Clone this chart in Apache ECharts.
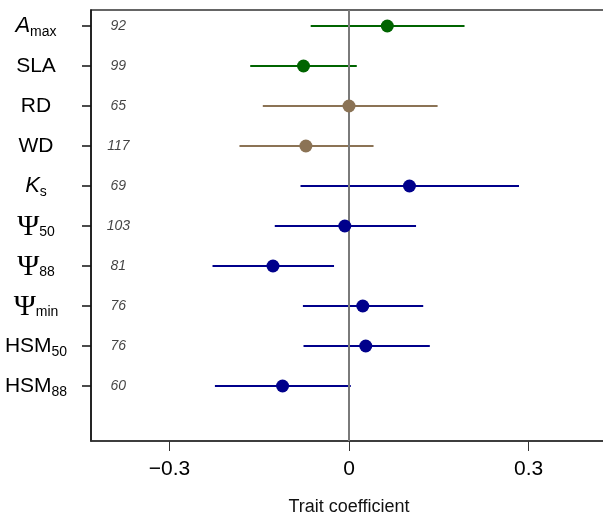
<!DOCTYPE html>
<html><head><meta charset="utf-8">
<script src="https://cdn.jsdelivr.net/npm/echarts@6/dist/echarts.min.js"></script>
<style>html,body{margin:0;padding:0;background:#fff}#c{width:603px;height:519px}</style>
</head><body><div id="c"></div>
<script>
// Data
var traitLabels = ['{i|A}{s|max}', '{n|SLA}', '{n|RD}', '{n|WD}', '{i|K}{s|s}', '{g|Ψ}{s|50}', '{g|Ψ}{s|88}', '{g|Ψ}{s|min}', '{n|HSM}{s|50}', '{n|HSM}{s|88}'];
var counts = [92, 99, 65, 117, 69, 103, 81, 76, 76, 60];
var estimate = [0.064, -0.076, 0.000, -0.072, 0.101, -0.007, -0.127, 0.023, 0.028, -0.111];
var lower = [-0.064, -0.165, -0.144, -0.183, -0.081, -0.124, -0.228, -0.077, -0.076, -0.224];
var upper = [0.193, 0.013, 0.148, 0.041, 0.284, 0.112, -0.025, 0.124, 0.135, 0.003];
var group = ['leaf', 'leaf', 'wood', 'wood', 'hyd', 'hyd', 'hyd', 'hyd', 'hyd', 'hyd'];
var xTicks = [-0.3, 0, 0.3];

var groupColor = {leaf: '#006400', wood: '#8B7355', hyd: '#00008B'};
var rows = traitLabels.map(function (_, i) { return i; });
var COUNT_X = -0.3853;

var chart = echarts.init(document.getElementById('c'), null, {renderer: 'canvas'});
chart.setOption({
  animation: false,
  grid: {left: 91, top: 10, width: 516, height: 431, outerBoundsMode: 'none', containLabel: false,
    show: true, borderColor: '#333', borderWidth: 1.5, backgroundColor: 'transparent'},
  xAxis: {
    type: 'value', min: -0.431, max: 0.431,
    name: 'Trait coefficient', nameLocation: 'middle', nameGap: 57,
    nameTextStyle: {fontFamily: 'Liberation Sans', fontSize: 18, color: '#111'},
    axisLine: {show: true, onZero: false, lineStyle: {color: '#333', width: 1.5}},
    axisTick: {show: true, length: 10, lineStyle: {color: '#333', width: 1}, customValues: xTicks},
    axisLabel: {fontFamily: 'Liberation Sans', fontSize: 21, color: '#000', margin: 18, customValues: xTicks,
      formatter: function (v) { if (Math.abs(v) < 1e-9) return '0'; return (v < 0 ? '\u2212' : '') + Math.abs(v).toFixed(1); }},
    splitLine: {show: false}
  },
  yAxis: {
    type: 'value', inverse: true, min: -0.4, max: 10.375,
    axisLine: {show: true, onZero: false, lineStyle: {color: '#111', width: 1.5}},
    axisTick: {show: true, length: 9, lineStyle: {color: '#111', width: 1.5}, customValues: rows},
    axisLabel: {
      customValues: rows, margin: 55, align: 'center',
      formatter: function (v) { return traitLabels[Math.round(v)]; },
      rich: {
        n: {fontFamily: 'Liberation Sans', fontSize: 21, color: '#000'},
        i: {fontFamily: 'Liberation Sans', fontSize: 22, fontStyle: 'italic', color: '#000'},
        g: {fontFamily: 'Liberation Serif', fontSize: 30, color: '#000', padding: [3, 0, 0, 0]},
        s: {fontFamily: 'Liberation Sans', fontSize: 14, color: '#000', padding: [13, 0, 0, 0]}
      }
    },
    splitLine: {show: false}
  },
  series: [
    {
      type: 'custom',
      z: 3,
      data: rows.map(function (i) { return [lower[i], upper[i], i]; }),
      renderItem: function (params, api) {
        var i = api.value(2);
        var a = api.coord([api.value(0), i]);
        var b = api.coord([api.value(1), i]);
        return {type: 'line', shape: {x1: a[0], y1: a[1], x2: b[0], y2: b[1]},
          style: {stroke: groupColor[group[i]], lineWidth: 2}};
      }
    },
    {
      type: 'line', data: [[0, -0.4], [0, 10.375]], symbol: 'none', z: 4, silent: true,
      lineStyle: {color: '#7a7a7a', width: 2}
    },
    {
      type: 'scatter', z: 5, symbolSize: 13,
      data: rows.map(function (i) { return {value: [estimate[i], i], itemStyle: {color: groupColor[group[i]], opacity: 1}}; })
    },
    {
      type: 'scatter', z: 5, symbolSize: 0,
      data: rows.map(function (i) { return [COUNT_X, i, counts[i]]; }),
      label: {show: true, position: 'inside', formatter: function (p) { return String(p.value[2]); },
        fontFamily: 'Liberation Sans', fontSize: 14, fontStyle: 'italic', color: '#111'}
    }
  ]
});
</script></body></html>
